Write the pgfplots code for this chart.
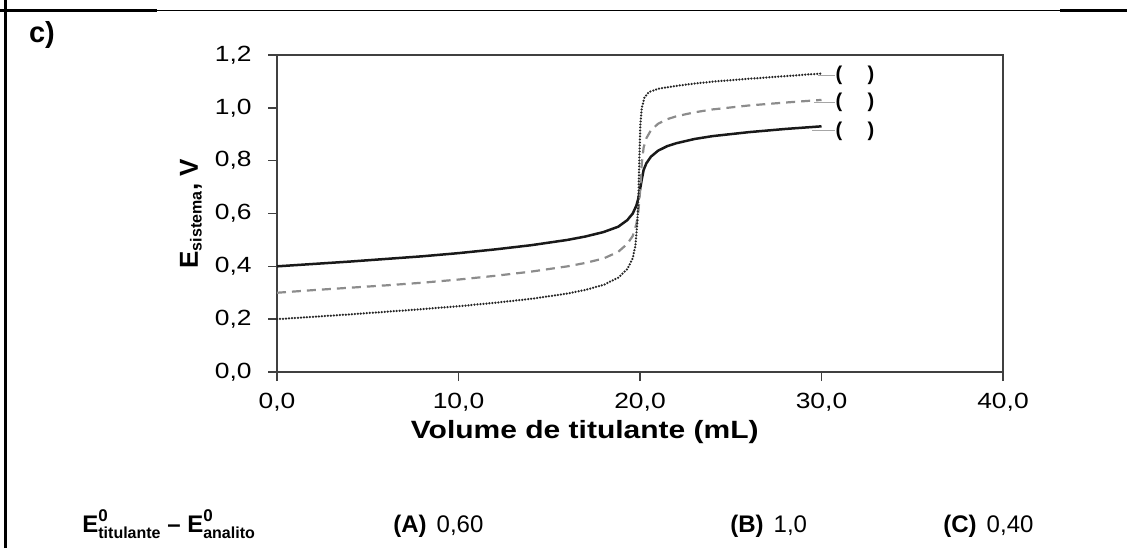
\documentclass[border=0pt]{standalone}
\usepackage{fontspec}
\setmainfont{Liberation Sans}
\newfontfamily\chartfont{Liberation Sans}[FakeStretch=1.2]
\usepackage{pgfplots}
\pgfplotsset{compat=1.18}
\tikzset{paren/.style={font=\bfseries\fontsize{10}{12}\selectfont, inner sep=0pt}}
\newcommand{\Ezero}[1]{E\rlap{\raisebox{5.2pt}{\fontsize{8.5}{9}\selectfont 0}}\raisebox{-3.2pt}{\fontsize{8}{9}\selectfont #1}}

% 1 px of the reference = 0.5pt
\begin{document}
\begin{tikzpicture}
\useasboundingbox (0,0) rectangle (563.5pt,274pt);

\begin{axis}[
    at={(138.5pt,88pt)}, anchor=south west,
    scale only axis, width=363pt, height=158.5pt,
    xmin=0, xmax=40, ymin=0, ymax=1.2,
    xtick={0,10,20,30,40},
    ytick={0,0.2,0.4,0.6,0.8,1.0,1.2},
    tick align=outside, tick pos=left,
    major tick length=4.5pt,
    axis line style={draw=black!75, line width=1pt},
    every tick/.style={draw=black!75, line width=0.8pt},
    /pgf/number format/use comma,
    /pgf/number format/fixed,
    /pgf/number format/fixed zerofill,
    /pgf/number format/precision=1,
    /pgf/number format/assume math mode=true,
    tick label style={font=\chartfont\fontsize{11}{13}\selectfont},
    yticklabel style={inner sep=0pt, xshift=-8pt},
    xticklabel style={inner sep=0pt, yshift=-6pt},
    xlabel={Volume de titulante (mL)},
    every axis x label/.style={at={(axis description cs:0.424,0)}, anchor=center, yshift=-30pt,
        font=\chartfont\bfseries\fontsize{12.5}{15}\selectfont},
    ylabel={E\textsubscript{\fontsize{8}{9}\selectfont sistema}, V},
    every axis y label/.style={at={(axis description cs:0,0.5)}, xshift=-43pt, rotate=90, anchor=center,
        font=\bfseries\fontsize{13}{15}\selectfont},
    clip=false,
]
% tres curvas de titulacao
\addplot[black!90, line width=1.25pt] table {
x y
0 0.400
2 0.409
4 0.418
6 0.428
8 0.438
10 0.450
12 0.464
14 0.480
16 0.500
17 0.513
18 0.530
18.8 0.550
19.3 0.575
19.6 0.600
19.8 0.630
19.9 0.655
20.0 0.690
20.1 0.730
20.2 0.765
20.35 0.790
20.6 0.815
21.0 0.838
21.5 0.855
22.0 0.866
23.0 0.882
24.0 0.893
26.0 0.908
28.0 0.920
30.0 0.930
};
\addplot[black!45, line width=1.1pt, dash pattern=on 4.5pt off 3pt] table {
x y
0 0.300
2 0.310
4 0.319
6 0.328
8 0.338
10 0.350
12 0.364
14 0.380
16 0.400
17 0.413
18 0.430
18.8 0.455
19.3 0.485
19.6 0.515
19.8 0.560
19.9 0.600
20.0 0.680
20.1 0.790
20.2 0.850
20.35 0.885
20.6 0.915
21.0 0.940
21.5 0.957
22.0 0.968
23.0 0.983
24.0 0.994
26.0 1.009
28.0 1.020
30.0 1.030
};
\addplot[black!85, line width=1.25pt, line cap=round, dash pattern=on 0pt off 1.5pt] table {
x y
0 0.200
2 0.209
4 0.218
6 0.228
8 0.238
10 0.249
12 0.262
14 0.277
16 0.297
17 0.311
18 0.330
18.8 0.357
19.3 0.390
19.6 0.430
19.75 0.480
19.85 0.560
19.92 0.680
19.97 0.820
20.02 0.940
20.1 1.000
20.25 1.040
20.5 1.060
21.0 1.072
21.5 1.078
22.0 1.083
23.0 1.092
24.0 1.099
26.0 1.110
28.0 1.120
30.0 1.130
};
% ligacoes e parenteses para as respostas
\draw[black!35, line width=0.5pt] (axis cs:29.8,1.124) -- (axis cs:30.75,1.124);
\draw[black!35, line width=0.5pt] (axis cs:29.6,1.022) -- (axis cs:30.75,1.022);
\draw[black!35, line width=0.6pt] (axis cs:29.5,0.914) -- (axis cs:30.75,0.914);
\node[paren] at (axis cs:30.96,1.124) {(};
\node[paren] at (axis cs:32.73,1.124) {)};
\node[paren] at (axis cs:30.96,1.022) {(};
\node[paren] at (axis cs:32.73,1.022) {)};
\node[paren] at (axis cs:30.96,0.912) {(};
\node[paren] at (axis cs:32.73,0.912) {)};
\end{axis}

% moldura da questao
\draw[line width=1.35pt] (2.65pt,0) -- (2.65pt,274pt);
\draw[line width=1.35pt] (0,268.6pt) -- (78.5pt,268.6pt);
\draw[line width=0.5pt] (78.5pt,268.9pt) -- (530pt,268.9pt);
\draw[line width=1.35pt] (530pt,268.6pt) -- (563.5pt,268.6pt);

\node[font=\bfseries\fontsize{14.5}{16}\selectfont] at (21pt,256.5pt) {c)};

\node[anchor=base west, inner sep=0pt, font=\bfseries\fontsize{12}{14}\selectfont]
  at (41pt,8pt) {\Ezero{titulante} – \Ezero{analito}};
\node[anchor=base west, inner sep=0pt, font=\fontsize{12}{14}\selectfont]
  at (196.5pt,8pt) {\textbf{(A)}\hspace{5pt}0,60};
\node[anchor=base west, inner sep=0pt, font=\fontsize{12}{14}\selectfont]
  at (365pt,8pt) {\textbf{(B)}\hspace{5pt}1,0};
\node[anchor=base west, inner sep=0pt, font=\fontsize{12}{14}\selectfont]
  at (471.5pt,8pt) {\textbf{(C)}\hspace{5pt}0,40};
\end{tikzpicture}
\end{document}
